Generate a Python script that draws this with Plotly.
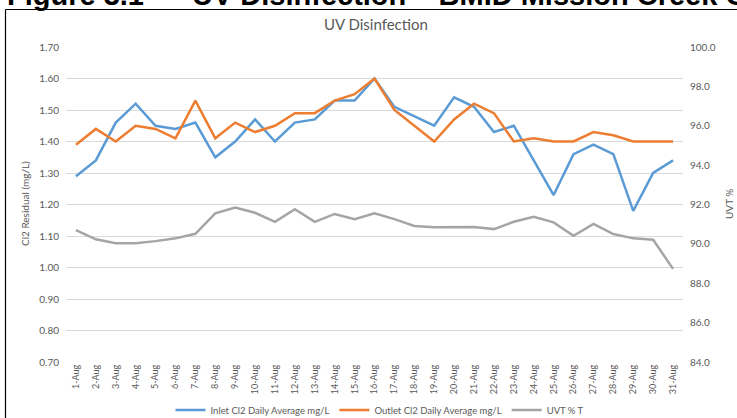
import plotly.graph_objects as go

dates = ["1-Aug","2-Aug","3-Aug","4-Aug","5-Aug","6-Aug","7-Aug","8-Aug","9-Aug","10-Aug",
         "11-Aug","12-Aug","13-Aug","14-Aug","15-Aug","16-Aug","17-Aug","18-Aug","19-Aug","20-Aug",
         "21-Aug","22-Aug","23-Aug","24-Aug","25-Aug","26-Aug","27-Aug","28-Aug","29-Aug","30-Aug","31-Aug"]
inlet = [1.29,1.34,1.46,1.52,1.45,1.44,1.46,1.35,1.40,1.47,1.40,1.46,1.47,1.53,1.53,1.60,
         1.51,1.48,1.45,1.54,1.51,1.43,1.45,1.34,1.23,1.36,1.39,1.36,1.18,1.30,1.34]
outlet = [1.39,1.44,1.40,1.45,1.44,1.41,1.53,1.41,1.46,1.43,1.45,1.49,1.49,1.53,1.55,1.60,
          1.50,1.45,1.40,1.47,1.52,1.49,1.40,1.41,1.40,1.40,1.43,1.42,1.40,1.40,1.40]
uvt = [90.70,90.23,90.03,90.03,90.14,90.28,90.51,91.55,91.84,91.58,91.12,91.76,91.12,91.52,91.25,91.55,
       91.26,90.91,90.84,90.86,90.86,90.75,91.12,91.38,91.09,90.41,91.01,90.50,90.28,90.21,88.73]

W, H = 737, 418
L, R, T, B = 66, 54, 47, 56
pw, ph = W - L - R, H - T - B

def px(x):
    return (x - L) / pw

def py(y):
    return (H - B - y) / ph

FONT = "Lato"
GREY = "#595959"

fig = go.Figure()
fig.add_trace(go.Scatter(x=dates, y=inlet, mode="lines", name="Inlet Cl2 Daily Average mg/L",
                         line=dict(color="#5B9BD5", width=2.5)))
fig.add_trace(go.Scatter(x=dates, y=outlet, mode="lines", name="Outlet Cl2 Daily Average mg/L",
                         line=dict(color="#ED7D31", width=2.5)))
fig.add_trace(go.Scatter(x=dates, y=uvt, mode="lines", name="UVT % T", yaxis="y2",
                         line=dict(color="#A5A5A5", width=2.5)))

fig.update_layout(
    width=W, height=H,
    margin=dict(l=L, r=R, t=T, b=B, autoexpand=False),
    paper_bgcolor="white", plot_bgcolor="white",
    font=dict(family=FONT, color=GREY, size=10),
    xaxis=dict(type="category", range=[-0.5, 30.5], tickangle=-90, showgrid=False, automargin=False,
               showline=False, ticks="", tickfont=dict(size=9, color=GREY)),
    yaxis=dict(range=[0.70, 1.70], dtick=0.1, tickformat=".2f", showgrid=True, automargin=False,
               gridcolor="#D9D9D9", gridwidth=1, zeroline=False, showline=False, ticks="",
               ticklabelstandoff=6,
               tickfont=dict(size=10, color=GREY)),
    yaxis2=dict(range=[84, 100], dtick=2, tickformat=".1f", overlaying="y", side="right",
                showgrid=False, zeroline=False, showline=False, ticks="", automargin=False,
                ticklabelstandoff=6,
                tickfont=dict(size=10, color=GREY)),
    legend=dict(orientation="h", x=px(380), xanchor="center", y=py(410), yanchor="middle",
                font=dict(size=9.5, color=GREY), bgcolor="rgba(0,0,0,0)"),
    shapes=[
        dict(type="line", xref="paper", yref="paper", x0=px(5.5), x1=px(760), y0=py(9.5), y1=py(9.5),
             line=dict(color="black", width=1.2)),
        dict(type="line", xref="paper", yref="paper", x0=px(5.5), x1=px(5.5), y0=py(9.5), y1=py(440),
             line=dict(color="black", width=1.2)),
    ],
    annotations=[
        dict(text="UV Disinfection", xref="paper", yref="paper", x=px(376), y=py(24),
             xanchor="center", yanchor="middle", showarrow=False,
             font=dict(family=FONT, size=15, color=GREY)),
        dict(text="Cl2 Residual (mg/L)", xref="paper", yref="paper", x=px(25), y=py(204),
             xanchor="center", yanchor="middle", showarrow=False, textangle=-90,
             font=dict(family=FONT, size=10, color=GREY)),
        dict(text="UVT %", xref="paper", yref="paper", x=px(729), y=py(204),
             xanchor="center", yanchor="middle", showarrow=False, textangle=-90,
             font=dict(family=FONT, size=10, color=GREY)),
        dict(text="<b>Figure 3.1</b>", xref="paper", yref="paper", x=px(5), y=py(13),
             xanchor="left", yanchor="bottom", showarrow=False,
             font=dict(family="Liberation Sans", size=29, color="black")),
        dict(text="<b>UV Disinfection – BMID Mission Creek Chlorination</b>", xref="paper", yref="paper",
             x=px(190), y=py(13), xanchor="left", yanchor="bottom", showarrow=False,
             font=dict(family="Liberation Sans", size=29, color="black")),
    ],
)

fig.write_html("out.html", config=dict(displayModeBar=False),
               post_script="document.body.style.margin='0';document.body.style.overflow='hidden';")
